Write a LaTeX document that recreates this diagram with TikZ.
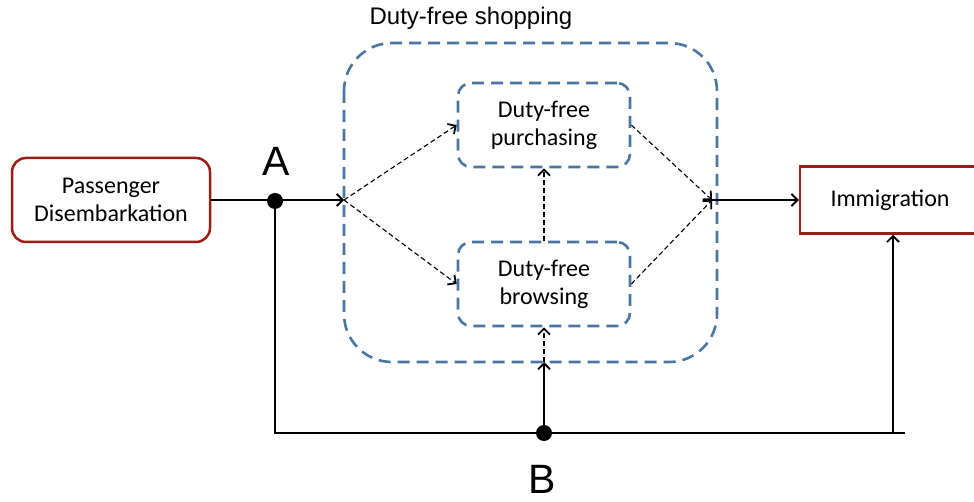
\documentclass[tikz,border=0pt]{standalone}
\usepackage{fontspec}
\setmainfont{Carlito}
\newfontfamily\arialfont{Liberation Sans}
\usetikzlibrary{arrows.meta}
\definecolor{boxred}{RGB}{153,31,20}
\definecolor{dashblue}{RGB}{74,117,162}
\begin{document}
\begin{tikzpicture}[x=1pt,y=-1pt,
  redbox/.style={draw=boxred,line width=2.5pt,align=center,
    font=\fontsize{24}{28}\selectfont},
  bluebox/.style={draw=dashblue,line width=2.6pt,dash pattern=on 12pt off 7pt,
    rounded corners=13pt,minimum width=172pt,minimum height=84pt,align=center,
    font=\fontsize{24}{28}\selectfont},
  flow/.style={line width=1.8pt,-{Straight Barb[length=6pt,width=12pt]}},
  maybe/.style={line width=1.1pt,dash pattern=on 5pt off 3pt,
    -{Straight Barb[length=6pt,width=12pt,line width=1.8pt]}},
  dot/.style={circle,fill,inner sep=0pt,minimum size=16pt},
  letter/.style={font=\arialfont\fontsize{41}{41}\selectfont,anchor=base,
    inner sep=0pt,text depth=0pt}]
\useasboundingbox (0,0) rectangle (974,502);
\draw[dashblue,line width=2.6pt,dash pattern=on 12pt off 7pt,rounded corners=48pt]
  (344,43) rectangle (717,362);
\node[font=\arialfont\fontsize{24}{24}\selectfont] (title) at (471,18) {Duty-free shopping};
\node[redbox,rounded corners=14pt,minimum width=198pt,minimum height=84pt] (pass)
  at (111,200) {Passenger\\Disembarkation};
\node[redbox,minimum width=180pt,minimum height=67pt] (imm) at (890,200) {Immigration};
\node[bluebox] (purch) at (544,125) {Duty-free\\purchasing};
\node[bluebox] (brows) at (544,284) {Duty-free\\browsing};
\coordinate (in) at (344,200);
\coordinate (out) at (712,200);
\coordinate (boxbot) at (544,362);
\coordinate (cornerL) at (275,433);
\coordinate (upR) at (893,433);
\coordinate (endR) at (905,433);
\draw[flow] (pass.east) -- (in);
\draw[maybe] (in) -- (purch.west);
\draw[maybe] (in) -- (brows.west);
\draw[maybe] (purch.east) -- (out);
\draw[maybe] (brows.east) -- (out);
\draw[maybe] (brows.north) -- (purch.south);
\draw[maybe] (boxbot) -- (brows.south);
\draw[flow] (out) -- (imm.west);
\draw[line width=1.8pt] (275,200) -- (cornerL) -- (endR);
\draw[flow] (upR) -- (upR |- imm.south);
\node[dot] (A) at (275,201) {};
\node[dot] (B) at (544,433) {};
\draw[flow] (B) -- (boxbot);
\node[letter] (labA) at (276,176) {A};
\node[letter] (labB) at (542,493) {B};
\end{tikzpicture}
\end{document}
